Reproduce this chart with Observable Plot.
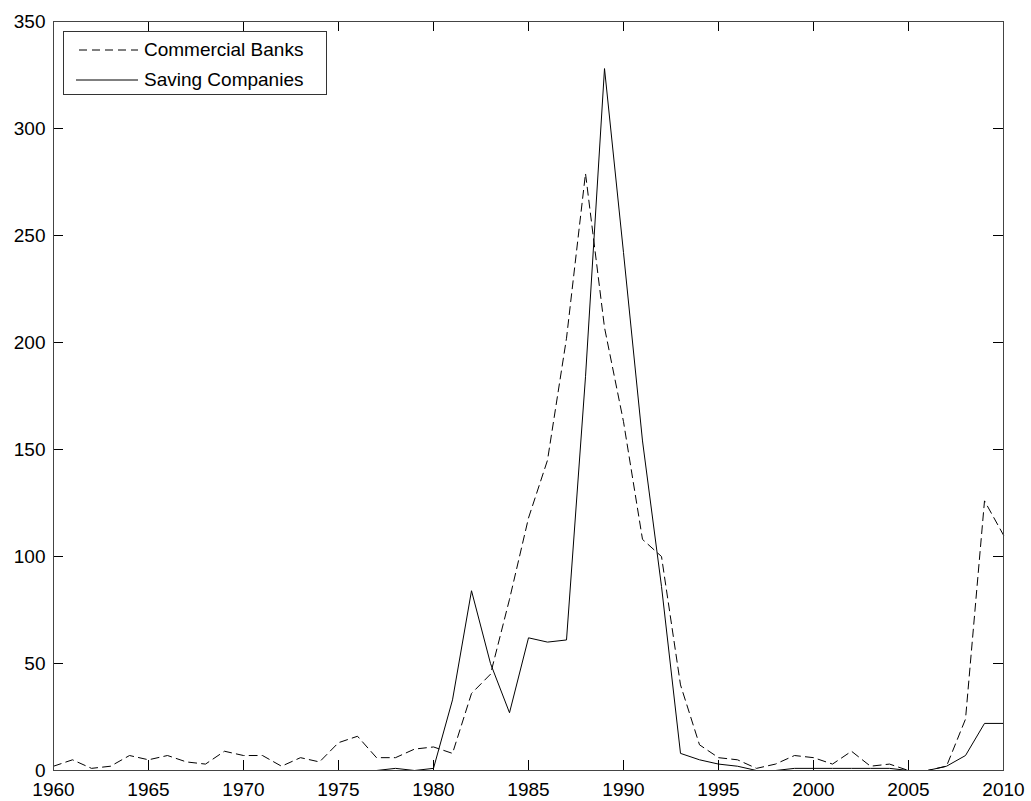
<!DOCTYPE html>
<html>
<head>
<meta charset="utf-8">
<script src="https://cdn.jsdelivr.net/npm/d3@7"></script>
<script src="https://cdn.jsdelivr.net/npm/@observablehq/plot@0.6"></script>
<style>
  html, body { margin: 0; padding: 0; background: #fff; }
  #chart svg { display: block; }
</style>
</head>
<body>
<div id="chart"></div>
<script>
const years = d3.range(1960, 2011);
const commercialBanks = [
  2, 5, 1, 2, 7, 5, 7, 4, 3, 9,
  7, 7, 2, 6, 4, 13, 16, 6, 6, 10,
  11, 8, 36, 45, 80, 118, 145, 202, 279, 207,
  163, 108, 100, 40, 12, 6, 5, 1, 3, 7,
  6, 3, 9, 2, 3, 0, 0, 2, 24, 126,
  110
];
const savingCompanies = [
  null, null, null, null, null, null, null, null, null, null,
  null, null, null, null, null, null, null, 0, 1, 0,
  1, 33, 84, 50, 27, 62, 60, 61, 184, 328,
  242, 154, 86, 8, 5, 3, 2, 0, 0, 1,
  1, 1, 1, 1, 1, 0, 0, 2, 7, 22,
  22
];
const xTicks = d3.range(1960, 2011, 5);
const yTicks = d3.range(0, 351, 50);
const seriesNames = ["Commercial Banks", "Saving Companies"];

const cb = years.map((y, i) => ({year: y, value: commercialBanks[i]}));
const sc = years.map((y, i) => ({year: y, value: savingCompanies[i]})).filter(d => d.value !== null);

const W = 1031, H = 801;
const mL = 53, mR = 28, mT = 21, mB = 31;
const pw = W - mL - mR, ph = H - mT - mB;
const tickLen = 10;
const font = "'Liberation Sans', Arial, Helvetica, sans-serif";

const plot = Plot.plot({
  width: W,
  height: H,
  marginLeft: mL,
  marginRight: mR,
  marginTop: mT,
  marginBottom: mB,
  style: {fontFamily: font, fontSize: "19px", color: "#000", background: "#fff"},
  x: {domain: [1960, 2010], label: null},
  y: {domain: [0, 350], label: null},
  marks: [
    Plot.axisX({ticks: xTicks, tickSize: 0, tickPadding: 12, tickFormat: d => String(d), fontSize: 19, label: null}),
    Plot.axisY({ticks: yTicks, tickSize: 0, tickPadding: 8, fontSize: 19, label: null}),
    Plot.tickX(xTicks, {x: d => d, stroke: "#000", strokeWidth: 1, insetTop: ph - tickLen}),
    Plot.tickX(xTicks, {x: d => d, stroke: "#000", strokeWidth: 1, insetBottom: ph - tickLen}),
    Plot.tickY(yTicks, {y: d => d, stroke: "#000", strokeWidth: 1, insetRight: pw - tickLen}),
    Plot.tickY(yTicks, {y: d => d, stroke: "#000", strokeWidth: 1, insetLeft: pw - tickLen}),
    Plot.line(cb, {x: "year", y: "value", stroke: "#000", strokeWidth: 1, strokeDasharray: "8,5"}),
    Plot.line(sc, {x: "year", y: "value", stroke: "#000", strokeWidth: 1}),
    Plot.frame({stroke: "#444", strokeWidth: 1})
  ]
});

document.getElementById("chart").appendChild(plot);

// Legend box (top-left, inside plot area)
const svg = d3.select(plot);
const lg = svg.append("g").attr("font-family", font).attr("font-size", 19).attr("text-anchor", "start");
lg.append("rect").attr("x", 63.5).attr("y", 31.5).attr("width", 263).attr("height", 63)
  .attr("fill", "#fff").attr("stroke", "#333").attr("stroke-width", 1);
lg.append("line").attr("x1", 79).attr("x2", 138).attr("y1", 50).attr("y2", 50)
  .attr("stroke", "#000").attr("stroke-dasharray", "8,5");
lg.append("line").attr("x1", 76).attr("x2", 138).attr("y1", 80).attr("y2", 80)
  .attr("stroke", "#000");
lg.append("text").attr("x", 144).attr("y", 56).attr("fill", "#000").attr("text-anchor", "start").text(seriesNames[0]);
lg.append("text").attr("x", 144).attr("y", 86).attr("fill", "#000").attr("text-anchor", "start").text(seriesNames[1]);
</script>
</body>
</html>
